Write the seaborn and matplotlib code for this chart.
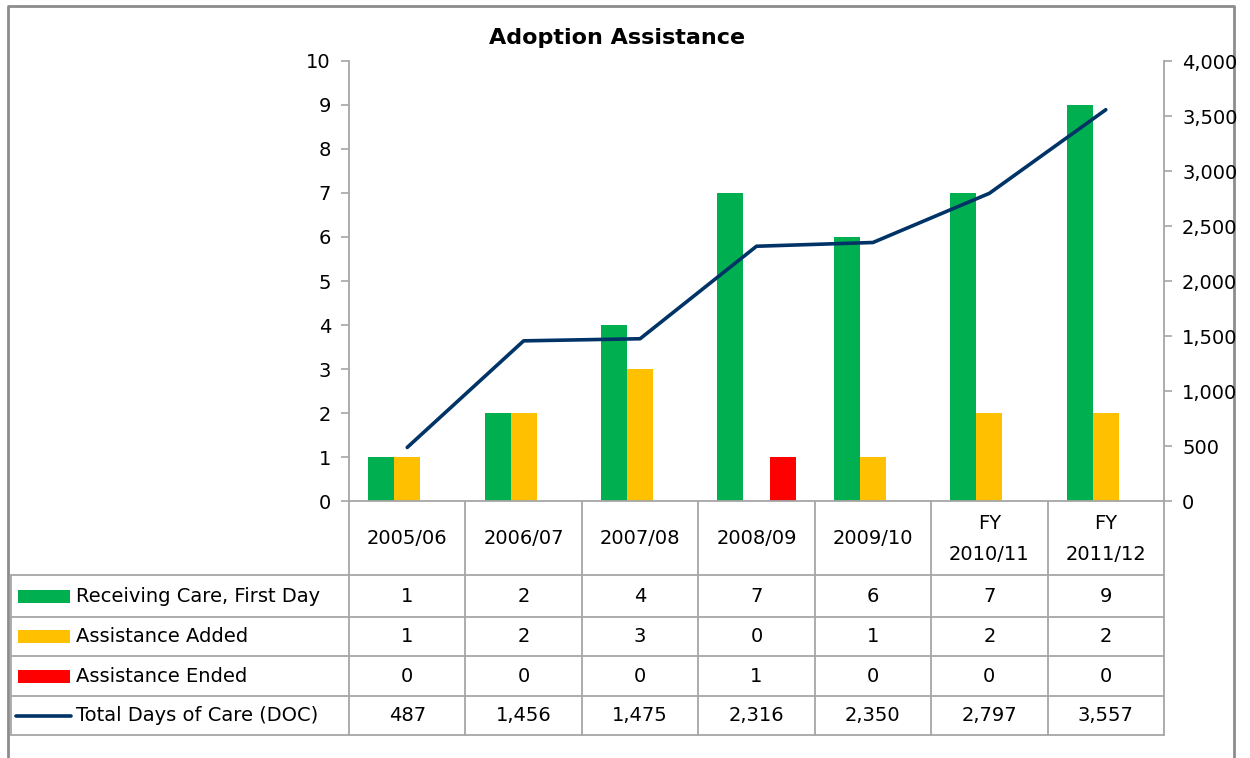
import pandas as pd
import numpy as np
import matplotlib.pyplot as plt
import seaborn as sns
from matplotlib.patches import Rectangle
from matplotlib.lines import Line2D
from matplotlib.ticker import FuncFormatter

years = ["2005/06", "2006/07", "2007/08", "2008/09", "2009/10", "FY 2010/11", "FY 2011/12"]
year_labels = ["2005/06", "2006/07", "2007/08", "2008/09", "2009/10", "FY\n2010/11", "FY\n2011/12"]
receiving_care = [1, 2, 4, 7, 6, 7, 9]
assistance_added = [1, 2, 3, 0, 1, 2, 2]
assistance_ended = [0, 0, 0, 1, 0, 0, 0]
total_doc = [487, 1456, 1475, 2316, 2350, 2797, 3557]

series = ["Receiving Care, First Day", "Assistance Added", "Assistance Ended"]
bar_colors = ["#00B050", "#FFC000", "#FF0000"]
line_label = "Total Days of Care (DOC)"
line_color = "#003366"

df = pd.DataFrame({
    "year": years * 3,
    "series": [s for s in series for _ in years],
    "count": receiving_care + assistance_added + assistance_ended,
})

sns.set_theme(style="white")
plt.rcParams['font.family'] = ['DejaVu Sans']
plt.rcParams['text.color'] = 'black'
plt.rcParams['xtick.color'] = 'black'
plt.rcParams['ytick.color'] = 'black'
fs = 14
grid_c = "#a6a6a6"

W, H = 1250, 758
fig = plt.figure(figsize=(12.5, 7.58), dpi=100)

# plot area in pixels
L, R, T, B = 349, 1164, 61, 501
ax = fig.add_axes([L / W, 1 - B / H, (R - L) / W, (B - T) / H])

sns.barplot(data=df, x="year", y="count", hue="series", hue_order=series,
            palette=bar_colors, width=0.67, saturation=1, errorbar=None,
            linewidth=0, legend=False, ax=ax)
ax.set_ylim(0, 10)
ax.set_xlim(-0.5, len(years) - 0.5)
ax.set_yticks(range(0, 11))
ax.set_xticks([])
ax.set_xlabel("")
ax.set_ylabel("")
for s in ["top", "right"]:
    ax.spines[s].set_visible(False)
ax.spines["left"].set_color(grid_c)
ax.spines["bottom"].set_color(grid_c)
ax.spines["left"].set_linewidth(1.3)
ax.spines["bottom"].set_linewidth(1.3)
ax.tick_params(axis="y", left=True, direction="out", length=6, width=1.2,
               color=grid_c, labelcolor="black", labelsize=fs, pad=7)

ax2 = ax.twinx()
sns.lineplot(x=years, y=total_doc, ax=ax2, color=line_color, linewidth=2.6, sort=False)
ax2.set_ylim(0, 4000)
ax2.set_yticks(range(0, 4001, 500))
ax2.yaxis.set_major_formatter(FuncFormatter(lambda v, p: f"{int(v):,}"))
for s in ["top", "left", "bottom"]:
    ax2.spines[s].set_visible(False)
ax2.spines["right"].set_color(grid_c)
ax2.spines["right"].set_linewidth(1.3)
ax2.tick_params(axis="y", right=True, direction="out", length=6, width=1.2,
                color=grid_c, labelcolor="black", labelsize=fs, pad=7)
ax2.set_ylabel("")
ax2.set_xlabel("")

# overlay in pixel coordinates for border + data table (drawn underneath)
ov = fig.add_axes([0, 0, 1, 1])
ov.set_zorder(-1)
ov.set_xlim(0, W)
ov.set_ylim(H, 0)
ov.axis("off")
ov.patch.set_visible(False)

border_c = "#8c8c8c"
ov.plot([8, 8, 1234, 1234], [H + 5, 6, 6, H + 5], color=border_c, lw=2)

fig.text(617 / W, 1 - 38 / H, "Adoption Assistance", ha="center", va="center",
         fontsize=16, fontweight="bold", color="black")

n = len(years)
cw = (R - L) / n
edges = [L + i * cw for i in range(n + 1)]
row_y = [575, 617, 656, 696, 735]
tl = 11

for x in edges:
    ov.plot([x, x], [B, row_y[-1]], color=grid_c, lw=1.3)
ov.plot([tl, tl], [row_y[0], row_y[-1]], color=grid_c, lw=1.3)
for y in row_y:
    ov.plot([tl, R], [y, y], color=grid_c, lw=1.3)

for i, lab in enumerate(year_labels):
    ov.text(L + (i + 0.5) * cw, (B + row_y[0]) / 2 + 1, lab, ha="center", va="center",
            fontsize=fs, linespacing=1.75, color="black")

rows = [receiving_care, assistance_added, assistance_ended, total_doc]
names = series + [line_label]
for r, (vals, name) in enumerate(zip(rows, names)):
    yc = (row_y[r] + row_y[r + 1]) / 2
    if r < 3:
        ov.add_patch(Rectangle((18, yc - 6.5), 52, 13, color=bar_colors[r], lw=0))
    else:
        ov.add_line(Line2D([16, 71], [yc, yc], color=line_color, lw=2.6))
    ov.text(76, yc, name, ha="left", va="center", fontsize=fs, color="black")
    for i, v in enumerate(vals):
        ov.text(L + (i + 0.5) * cw, yc, f"{v:,}", ha="center", va="center",
                fontsize=fs, color="black")

fig.savefig("out.png", dpi=100, facecolor="white")
